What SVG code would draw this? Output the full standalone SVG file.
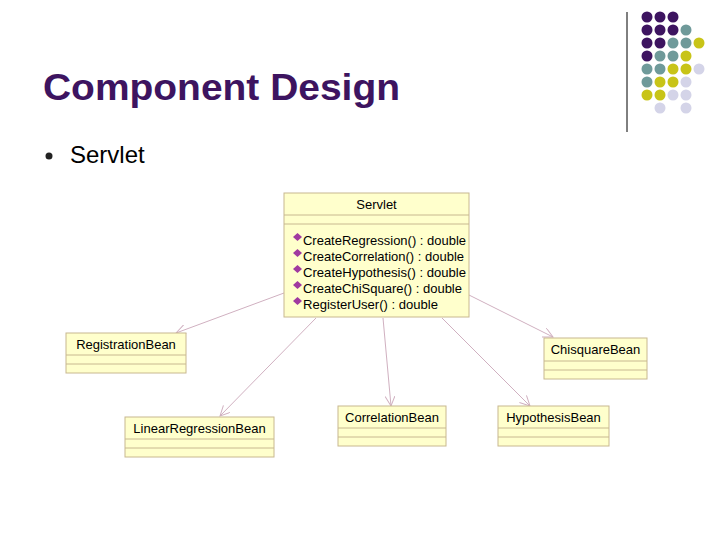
<svg xmlns="http://www.w3.org/2000/svg" width="720" height="540" viewBox="0 0 720 540">
<defs>
<style>
.box{fill:#ffffcc;stroke:#c8b890;stroke-width:1}
.t{font-family:"Liberation Sans",Arial,sans-serif;font-size:13px;fill:#000}
.c{stroke:#d0b0c0;stroke-width:1;fill:none;marker-end:url(#a)}
.P{fill:#3d1460}.T{fill:#6f9a9a}.Y{fill:#c8c418}.L{fill:#d4d4e8}
</style>
<marker id="a" markerWidth="12" markerHeight="12" refX="10" refY="5" orient="auto" markerUnits="userSpaceOnUse"><path d="M0,0 L10,5 L0,10" fill="none" stroke="#d0b0c0"/></marker>
</defs>
<rect width="720" height="540" fill="#fff"/>
<text x="43" y="100" font-family="Liberation Sans,Arial,sans-serif" font-size="37" font-weight="bold" fill="#3d1460" textLength="357" lengthAdjust="spacingAndGlyphs">Component Design</text>
<circle cx="49" cy="156" r="3.5" fill="#222"/>
<text x="70" y="163" font-family="Liberation Sans,Arial,sans-serif" font-size="24" fill="#000">Servlet</text>
<line x1="627" y1="12" x2="627" y2="132" stroke="#000"/>
<g id="dots">
<circle class="P" cx="647" cy="17" r="5.5"/><circle class="P" cx="660" cy="17" r="5.5"/><circle class="P" cx="673" cy="17" r="5.5"/>
<circle class="P" cx="647" cy="30" r="5.5"/><circle class="P" cx="660" cy="30" r="5.5"/><circle class="P" cx="673" cy="30" r="5.5"/><circle class="T" cx="686" cy="30" r="5.5"/>
<circle class="P" cx="647" cy="43" r="5.5"/><circle class="P" cx="660" cy="43" r="5.5"/><circle class="T" cx="673" cy="43" r="5.5"/><circle class="T" cx="686" cy="43" r="5.5"/><circle class="Y" cx="699" cy="43" r="5.5"/>
<circle class="P" cx="647" cy="56" r="5.5"/><circle class="T" cx="660" cy="56" r="5.5"/><circle class="T" cx="673" cy="56" r="5.5"/><circle class="Y" cx="686" cy="56" r="5.5"/>
<circle class="T" cx="647" cy="69" r="5.5"/><circle class="T" cx="660" cy="69" r="5.5"/><circle class="Y" cx="673" cy="69" r="5.5"/><circle class="Y" cx="686" cy="69" r="5.5"/><circle class="L" cx="699" cy="69" r="5.5"/>
<circle class="T" cx="647" cy="82" r="5.5"/><circle class="Y" cx="660" cy="82" r="5.5"/><circle class="Y" cx="673" cy="82" r="5.5"/><circle class="L" cx="686" cy="82" r="5.5"/>
<circle class="Y" cx="647" cy="95" r="5.5"/><circle class="Y" cx="660" cy="95" r="5.5"/><circle class="L" cx="673" cy="95" r="5.5"/><circle class="L" cx="686" cy="95" r="5.5"/>
<circle class="L" cx="660" cy="108" r="5.5"/><circle class="L" cx="686" cy="108" r="5.5"/>
</g>
<g id="connectors">
<line class="c" x1="284" y1="293" x2="176" y2="333"/>
<line class="c" x1="316" y1="318" x2="220" y2="416"/>
<line class="c" x1="383" y1="318" x2="391" y2="406"/>
<line class="c" x1="442" y1="318" x2="530" y2="406"/>
<line class="c" x1="469" y1="295" x2="553" y2="337"/>
</g>
<g id="servlet">
<rect class="box" x="284" y="193" width="185" height="124"/>
<line x1="284" y1="215" x2="469" y2="215" stroke="#c8b890"/>
<line x1="284" y1="224" x2="469" y2="224" stroke="#c8b890"/>
<text class="t" x="376.5" y="209" text-anchor="middle">Servlet</text>
<g fill="#a03aa0">
<path d="M293,237 l4.5,-4 l4.5,4 l-4.5,4z"/><path d="M293,253 l4.5,-4 l4.5,4 l-4.5,4z"/><path d="M293,269 l4.5,-4 l4.5,4 l-4.5,4z"/><path d="M293,285 l4.5,-4 l4.5,4 l-4.5,4z"/><path d="M293,301 l4.5,-4 l4.5,4 l-4.5,4z"/>
</g>
<text class="t" x="303" y="245" textLength="163" lengthAdjust="spacingAndGlyphs">CreateRegression() : double</text>
<text class="t" x="303" y="261" textLength="161" lengthAdjust="spacingAndGlyphs">CreateCorrelation() : double</text>
<text class="t" x="303" y="277" textLength="163" lengthAdjust="spacingAndGlyphs">CreateHypothesis() : double</text>
<text class="t" x="303" y="293" textLength="159" lengthAdjust="spacingAndGlyphs">CreateChiSquare() : double</text>
<text class="t" x="303" y="309" textLength="135" lengthAdjust="spacingAndGlyphs">RegisterUser() : double</text>
</g>
<g id="registration">
<rect class="box" x="66" y="333" width="120" height="40"/>
<line x1="66" y1="355" x2="186" y2="355" stroke="#c8b890"/><line x1="66" y1="364" x2="186" y2="364" stroke="#c8b890"/>
<text class="t" x="126" y="349" text-anchor="middle">RegistrationBean</text>
</g>
<g id="chisquare">
<rect class="box" x="544" y="338" width="103" height="41"/>
<line x1="544" y1="361" x2="647" y2="361" stroke="#c8b890"/><line x1="544" y1="370" x2="647" y2="370" stroke="#c8b890"/>
<text class="t" x="595.5" y="354" text-anchor="middle">ChisquareBean</text>
</g>
<g id="linear">
<rect class="box" x="125" y="417" width="149" height="40"/>
<line x1="125" y1="439" x2="274" y2="439" stroke="#c8b890"/><line x1="125" y1="448" x2="274" y2="448" stroke="#c8b890"/>
<text class="t" x="199.5" y="433" text-anchor="middle">LinearRegressionBean</text>
</g>
<g id="correlation">
<rect class="box" x="338" y="406" width="108" height="40"/>
<line x1="338" y1="428" x2="446" y2="428" stroke="#c8b890"/><line x1="338" y1="437" x2="446" y2="437" stroke="#c8b890"/>
<text class="t" x="392" y="422" text-anchor="middle">CorrelationBean</text>
</g>
<g id="hypothesis">
<rect class="box" x="498" y="406" width="111" height="40"/>
<line x1="498" y1="428" x2="609" y2="428" stroke="#c8b890"/><line x1="498" y1="437" x2="609" y2="437" stroke="#c8b890"/>
<text class="t" x="553.5" y="422" text-anchor="middle">HypothesisBean</text>
</g>
</svg>
